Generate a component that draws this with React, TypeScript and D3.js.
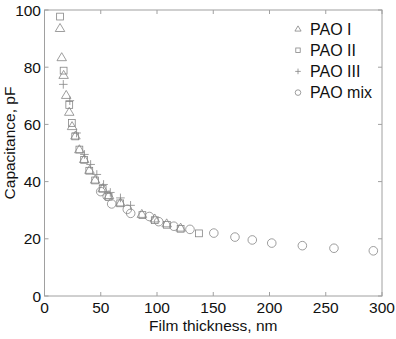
import React from "react";
import * as d3 from "d3";

const xTicks = [0, 50, 100, 150, 200, 250, 300];
const yTicks = [0, 20, 40, 60, 80, 100];

const paoI: [number, number][] = [
  [13.8, 93.6], [15.3, 83.4], [17, 77.2], [19.3, 70.2], [22, 64.3], [24.5, 59.3],
  [27.5, 56], [31, 51.2], [35.3, 47.8], [40, 44], [45, 40.6], [51.7, 37.6],
  [57.3, 35.2], [67.5, 32.6], [86.5, 28.6], [98, 27], [108.6, 25.3], [121, 23.8],
];
const paoII: [number, number][] = [
  [13.8, 97.7], [17, 78.8], [22, 66.8], [24.3, 60.5], [27.3, 55.8], [31, 51.2],
  [35.2, 47.6], [39.8, 43.8], [45, 40.4], [51.7, 37.5], [57, 34.7], [67.3, 32.4],
  [87, 28.3], [98, 26.5], [108.8, 24.9], [121, 23.5], [137.3, 21.9],
];
const paoIII: [number, number][] = [
  [16.7, 74], [22.5, 68.3], [28.5, 57], [35.5, 49.5], [41, 46], [46.5, 42.5],
  [52.5, 39], [58.5, 36.2], [67.5, 34.3], [76.5, 31.7],
];
const paoMix: [number, number][] = [
  [50, 36.5], [55.7, 34.9], [59.7, 32.2], [73.6, 30.3], [76.6, 28.9], [93.2, 27.8],
  [101.5, 26], [115, 24.4], [129.3, 23.3], [150.5, 22], [169.3, 20.6], [184.7, 19.6],
  [202, 18.5], [229.2, 17.6], [257.3, 16.7], [292.3, 15.8],
];
const legendLabels = ["PAO I", "PAO II", "PAO III", "PAO mix"];

const W = 396, H = 339;
const L = 44.5, R = 382, T = 10, B = 296;
const col = "#858585";
const axisCol = "#a0a0a0";
const font = "'Liberation Sans', Arial, Helvetica, sans-serif";

function Marker({ kind, x, y, s = 1 }: { kind: number; x: number; y: number; s?: number }) {
  const sw = 0.8;
  if (kind === 0) {
    const h = 8 * s, w = 9.5 * s;
    const p = `M${x},${y - h * 0.6}L${x + w / 2},${y + h * 0.4}L${x - w / 2},${y + h * 0.4}Z`;
    return <path d={p} fill="none" stroke={col} strokeWidth={sw} />;
  }
  if (kind === 1) {
    const a = 6.8 * s;
    return <rect x={x - a / 2} y={y - a / 2} width={a} height={a} fill="none" stroke={col} strokeWidth={sw} />;
  }
  if (kind === 2) {
    const a = 4.3 * s;
    return <path d={`M${x - a},${y}H${x + a}M${x},${y - a}V${y + a}`} fill="none" stroke={col} strokeWidth={sw} />;
  }
  return <circle cx={x} cy={y} r={4.3 * s} fill="none" stroke={col} strokeWidth={sw} />;
}

export default function App() {
  const x = d3.scaleLinear().domain([0, 300]).range([L, R]);
  const y = d3.scaleLinear().domain([0, 100]).range([B, T]);
  const series = [paoI, paoII, paoIII, paoMix];
  const fs = 15.5;
  return (
    <svg width={W} height={H} style={{ position: "absolute", left: 0, top: 0 }}>
      <rect x={0} y={0} width={W} height={H} fill="white" />
      <rect x={L} y={T} width={R - L} height={B - T} fill="none" stroke={axisCol} strokeWidth={1} />
      {xTicks.map((t) => (
        <g key={"x" + t}>
          <line x1={x(t)} x2={x(t)} y1={B} y2={B - 4} stroke={axisCol} />
          <line x1={x(t)} x2={x(t)} y1={T} y2={T + 4} stroke={axisCol} />
          <text x={x(t)} y={312.5} textAnchor="middle" fontFamily={font} fontSize={fs} fill="#111">{t}</text>
        </g>
      ))}
      {yTicks.map((t) => (
        <g key={"y" + t}>
          <line x1={L} x2={L + 4} y1={y(t)} y2={y(t)} stroke={axisCol} />
          <line x1={R} x2={R - 4} y1={y(t)} y2={y(t)} stroke={axisCol} />
          <text x={41} y={y(t) + 5.6} textAnchor="end" fontFamily={font} fontSize={fs} fill="#111">{t}</text>
        </g>
      ))}
      <text x={(L + R) / 2} y={331} textAnchor="middle" fontFamily={font} fontSize={fs} fill="#111">Film thickness, nm</text>
      <text transform={`translate(15,143) rotate(-90)`} textAnchor="middle" fontFamily={font} fontSize={fs} fill="#111">Capacitance, pF</text>
      {series.map((s, i) => (
        <g key={"s" + i}>
          {s.map((d, j) => (
            <Marker key={j} kind={i} x={x(d[0])} y={y(d[1])} />
          ))}
        </g>
      ))}
      {legendLabels.map((lab, i) => {
        const ly = 29 + i * 21.2;
        return (
          <g key={lab}>
            <Marker kind={i} x={298} y={ly} s={0.65} />
            <text x={310} y={ly + 5.8} fontFamily={font} fontSize={16} fill="#111">{lab}</text>
          </g>
        );
      })}
    </svg>
  );
}
